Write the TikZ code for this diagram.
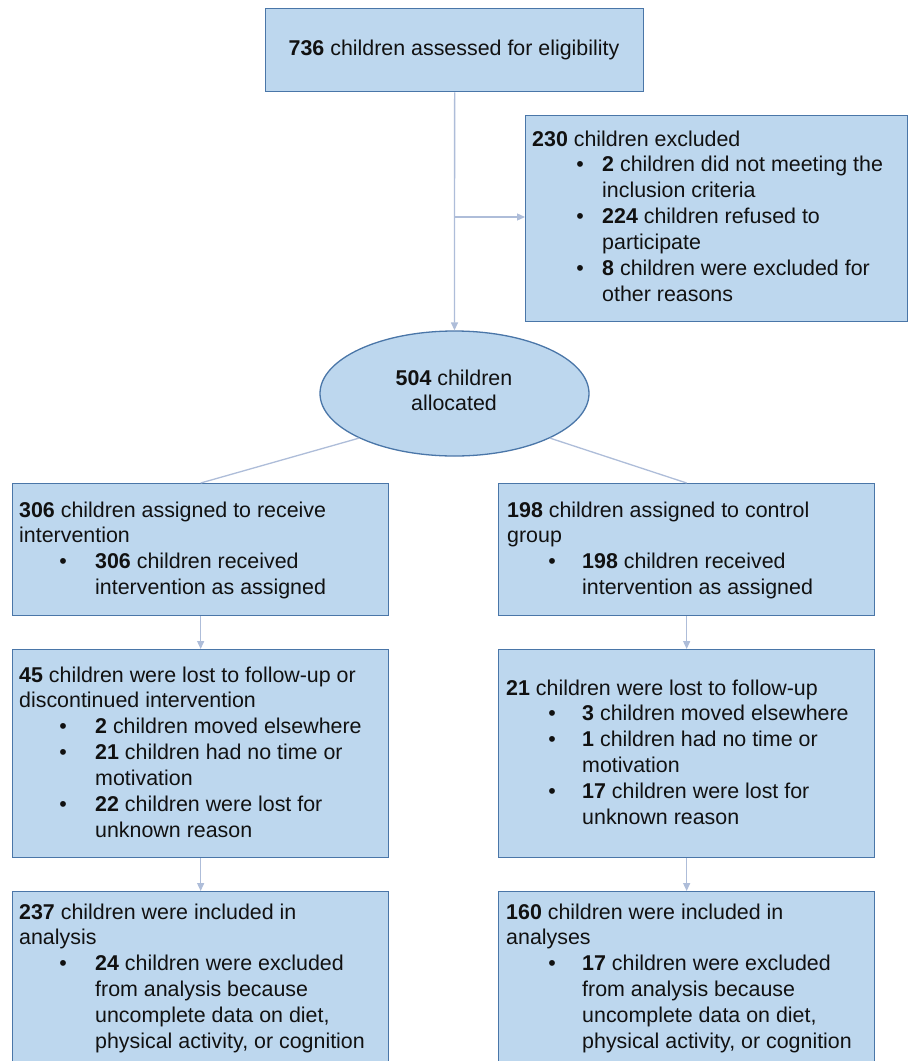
\documentclass[tikz,border=0pt]{standalone}
\usepackage{fontspec}
\setmainfont{Liberation Sans}
\usetikzlibrary{arrows.meta,shapes.geometric}
\definecolor{boxfill}{HTML}{BDD7EE}
\definecolor{boxline}{HTML}{4A76A8}
\definecolor{conn}{HTML}{AEBDD9}
\definecolor{txt}{HTML}{111111}
\newlength\bulx
\newlength\txtx
\newcommand\Bu[1]{\hspace*{\bulx}\makebox[0pt]{\textbullet}\hspace*{\dimexpr\txtx-\bulx\relax}#1}
\newcommand\Co[1]{\hspace*{\txtx}#1}
\newcommand\Tx[2]{\parbox[t]{#1}{\raggedright\fontsize{21.4}{25.9}\selectfont #2}}
\tikzset{
  box/.style={draw=boxline, fill=boxfill, line width=1.3pt, rectangle, inner sep=0pt, anchor=north west},
  oval/.style={draw=boxline, fill=boxfill, line width=1.3pt, ellipse, inner sep=0pt},
  lbl/.style={inner sep=0pt, anchor=base west, text=txt, font=\fontsize{21.4}{25.9}\selectfont},
  conline/.style={draw=conn, line width=1.3pt},
  arr/.style={conline, -{Triangle[length=8pt,width=7pt]}}
}
\begin{document}
\begin{tikzpicture}[x=1pt,y=-1pt]
\path[use as bounding box, clip] (0,0) rectangle (908,1061);
\fill[white] (0,0) rectangle (908,1061);
% boxes
\node[box, minimum width=378pt, minimum height=83pt] (top) at (265,8) {};
\node[box, minimum width=382pt, minimum height=206pt] (excl) at (525,115) {};
\node[oval, minimum width=269pt, minimum height=125pt] (alloc) at (454.5,393.5) {};
\node[box, minimum width=376pt, minimum height=132pt] (L2) at (12,483) {};
\node[box, minimum width=376pt, minimum height=132pt] (R2) at (498,483) {};
\node[box, minimum width=376pt, minimum height=208pt] (L3) at (12,649) {};
\node[box, minimum width=376pt, minimum height=208pt] (R3) at (498,649) {};
\node[box, minimum width=376pt, minimum height=190pt] (L4) at (12,891) {};
\node[box, minimum width=376pt, minimum height=190pt] (R4) at (498,891) {};
% connectors
\coordinate (br) at (454,217);
\draw[arr] (top.south) -- (alloc.north);
\draw[arr] (br) -- (excl.west |- br);
\draw[conline] (alloc.south west) -- (L2.north);
\draw[conline] (alloc.south east) -- (R2.north);
\draw[arr] (L2.south) -- (L3.north);
\draw[arr] (L3.south) -- (L4.north);
\draw[arr] (R2.south) -- (R3.north);
\draw[arr] (R3.south) -- (R4.north);
% texts
\node[lbl, anchor=base] (ttop) at (454,55) {\textbf{736} children assessed for eligibility};
\node[lbl, anchor=base] (talloc) at (454,385) {\Tx{260pt}{\centering \textbf{504} children\\allocated}};
\node[lbl] (texcl) at (532,146) {\setlength\bulx{48pt}\setlength\txtx{70pt}\Tx{370pt}{%
\textbf{230} children excluded\\
\Bu{\textbf{2} children did not meeting the}\\
\Co{inclusion criteria}\\
\Bu{\textbf{224} children refused to}\\
\Co{participate}\\
\Bu{\textbf{8} children were excluded for}\\
\Co{other reasons}}};
\node[lbl] (tL2) at (19,517) {\setlength\bulx{44pt}\setlength\txtx{76pt}\Tx{370pt}{%
\textbf{306} children assigned to receive\\
intervention\\
\Bu{\textbf{306} children received}\\
\Co{intervention as assigned}}};
\node[lbl] (tR2) at (507,517) {\setlength\bulx{45pt}\setlength\txtx{75pt}\Tx{370pt}{%
\textbf{198} children assigned to control\\
group\\
\Bu{\textbf{198} children received}\\
\Co{intervention as assigned}}};
\node[lbl] (tL3) at (19,682) {\setlength\bulx{44pt}\setlength\txtx{76pt}\Tx{370pt}{%
\textbf{45} children were lost to follow-up or\\
discontinued intervention\\
\Bu{\textbf{2} children moved elsewhere}\\
\Bu{\textbf{21} children had no time or}\\
\Co{motivation}\\
\Bu{\textbf{22} children were lost for}\\
\Co{unknown reason}}};
\node[lbl] (tR3) at (506,695) {\setlength\bulx{46pt}\setlength\txtx{76pt}\Tx{370pt}{%
\textbf{21} children were lost to follow-up\\
\Bu{\textbf{3} children moved elsewhere}\\
\Bu{\textbf{1} children had no time or}\\
\Co{motivation}\\
\Bu{\textbf{17} children were lost for}\\
\Co{unknown reason}}};
\node[lbl] (tL4) at (19,919) {\setlength\bulx{44pt}\setlength\txtx{76pt}\Tx{370pt}{%
\textbf{237} children were included in\\
analysis\\
\Bu{\textbf{24} children were excluded}\\
\Co{from analysis because}\\
\Co{uncomplete data on diet,}\\
\Co{physical activity, or cognition}}};
\node[lbl] (tR4) at (506,919) {\setlength\bulx{46pt}\setlength\txtx{76pt}\Tx{370pt}{%
\textbf{160} children were included in\\
analyses\\
\Bu{\textbf{17} children were excluded}\\
\Co{from analysis because}\\
\Co{uncomplete data on diet,}\\
\Co{physical activity, or cognition}}};
\end{tikzpicture}
\end{document}
